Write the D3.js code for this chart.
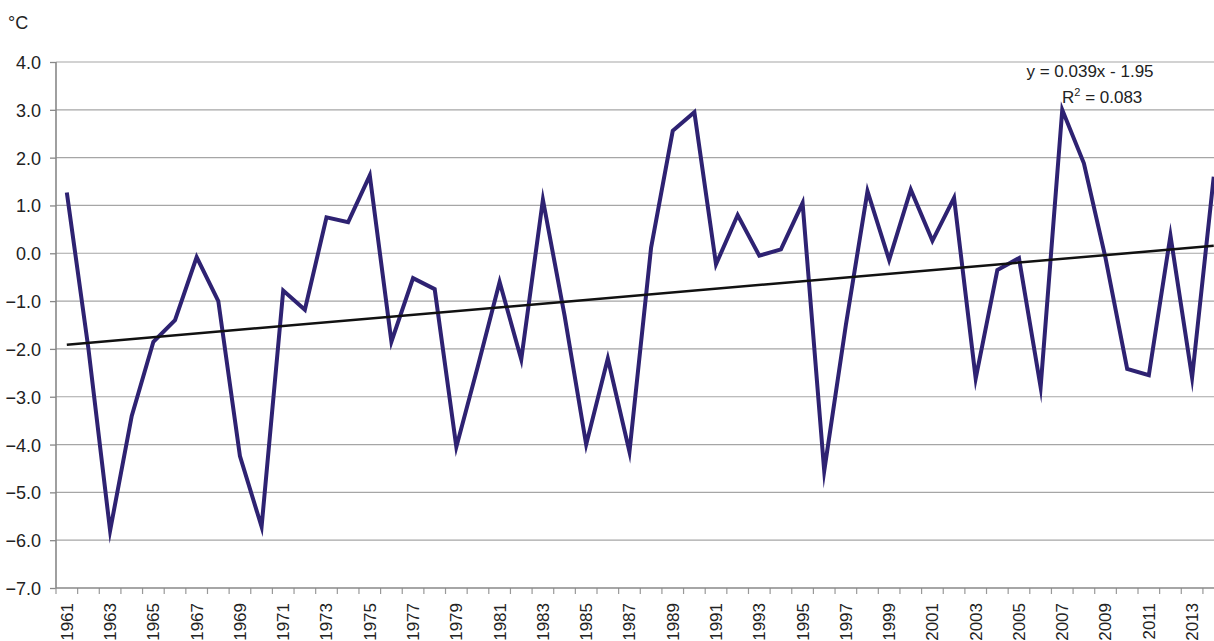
<!DOCTYPE html>
<html>
<head>
<meta charset="utf-8">
<script src="https://cdn.jsdelivr.net/npm/d3@7"></script>
<style>
    body { margin: 0; background: #fff; }
    svg text { font-family: "Liberation Sans", Arial, sans-serif; fill: #222; }
</style>
</head>
<body>
<script>
// yearly anomaly, degrees C
var years = d3.range(1961, 2015);
var anomalies = [
    1.27, -2.0, -5.8, -3.4, -1.85, -1.4, -0.08, -1.0, -4.24, -5.72,
    -0.78, -1.18, 0.75, 0.65, 1.63, -1.85, -0.52, -0.75, -4.05, -2.35,
    -0.6, -2.22, 1.12, -1.3, -4.0, -2.2, -4.15, 0.12, 2.56, 2.95,
    -0.23, 0.8, -0.05, 0.08, 1.05, -4.55, -1.5, 1.3, -0.14, 1.33,
    0.26, 1.16, -2.62, -0.35, -0.1, -2.8, 3.0, 1.88, -0.1, -2.42,
    -2.55, 0.37, -2.6, 1.6
];
var yTicks = [-7, -6, -5, -4, -3, -2, -1, 0, 1, 2, 3, 4];
var trendSlope = 0.039,
    trendIntercept = -1.95;
var trendLabel = "y = 0.039x - 1.95",
    r2Value = "0.083";

(function() {
    var width = 1214,
        height = 641,
        left = 56,
        top = 62,
        bottom = 588,
        step = 21.64;

    var svg = d3.select("body").append("svg")
                .attr("width", width)
                .attr("height", height);

    var x = d3.scaleBand()
              .domain(years)
              .range([left, left + years.length * step])
              .paddingInner(0).paddingOuter(0);

    var y = d3.scaleLinear()
              .domain([-7, 4])
              .range([bottom, top]);

    function cx(yr) { return x(yr) + x.bandwidth() / 2; }

    // horizontal grid
    svg.append("g")
       .selectAll("line")
       .data(yTicks.filter(function(d) { return d > -7; }))
       .enter().append("line")
       .attr("x1", left).attr("x2", width)
       .attr("y1", function(d) { return y(d); })
       .attr("y2", function(d) { return y(d); })
       .style("stroke", "#a6a6a6")
       .style("stroke-width", 1.2);

    // y axis
    var yAxis = d3.axisLeft(y)
                  .tickValues(yTicks)
                  .tickFormat(d3.format(".1f"))
                  .tickSize(6)
                  .tickPadding(9);
    var gy = svg.append("g")
                .attr("transform", "translate(" + left + ",0)")
                .call(yAxis);
    gy.select(".domain").remove();
    gy.selectAll(".tick line").style("stroke", "#888").style("stroke-width", 1.3);
    gy.selectAll(".tick text")
      .style("font-size", "18px")
      .style("fill", "#222")
      .attr("dy", "0.36em");

    // x axis: ticks between categories, labels on odd years
    var bounds = years.map(function(d) { return x(d); }).concat([x(years[years.length - 1]) + step]);
    svg.append("g")
       .selectAll("line")
       .data(bounds)
       .enter().append("line")
       .attr("x1", function(d) { return d; })
       .attr("x2", function(d) { return d; })
       .attr("y1", bottom).attr("y2", bottom + 6)
       .style("stroke", "#999")
       .style("stroke-width", 1.2);

    svg.append("g")
       .selectAll("text")
       .data(years.filter(function(d) { return d % 2 === 1; }))
       .enter().append("text")
       .attr("transform", function(d) { return "translate(" + cx(d) + "," + (bottom + 15) + ") rotate(-90)"; })
       .attr("text-anchor", "end")
       .attr("dy", "0.35em")
       .style("font-size", "17px")
       .text(function(d) { return d; });

    // axis lines
    svg.append("line")
       .attr("x1", left).attr("x2", left)
       .attr("y1", top).attr("y2", bottom)
       .style("stroke", "#888").style("stroke-width", 1.6);
    svg.append("line")
       .attr("x1", left).attr("x2", width)
       .attr("y1", bottom).attr("y2", bottom)
       .style("stroke", "#888").style("stroke-width", 1.6);

    // data line
    var line = d3.line()
                 .x(function(d, i) { return cx(years[i]); })
                 .y(function(d) { return y(d); });

    svg.append("path")
       .datum(anomalies)
       .attr("d", line)
       .style("fill", "none")
       .style("stroke", "#2e2272")
       .style("stroke-width", 4)
       .style("stroke-linejoin", "miter")
       .style("stroke-miterlimit", 12);

    // linear trend, x counted 1..n
    var n = years.length;
    svg.append("line")
       .attr("x1", cx(years[0]))
       .attr("x2", cx(years[n - 1]))
       .attr("y1", y(trendSlope * 1 + trendIntercept))
       .attr("y2", y(trendSlope * n + trendIntercept))
       .style("stroke", "#111")
       .style("stroke-width", 2.5);

    // labels
    svg.append("text")
       .attr("x", 8).attr("y", 29)
       .style("font-size", "18px")
       .text("°C");

    svg.append("text")
       .attr("x", 1090).attr("y", 77)
       .attr("text-anchor", "middle")
       .style("font-size", "17px")
       .text(trendLabel);

    var r2 = svg.append("text")
                .attr("x", 1062).attr("y", 103)
                .style("font-size", "17px");
    r2.append("tspan").text("R");
    r2.append("tspan").attr("dy", -7).style("font-size", "11px").text("2");
    r2.append("tspan").attr("dy", 7).text(" = " + r2Value);
})();
</script>
</body>
</html>
